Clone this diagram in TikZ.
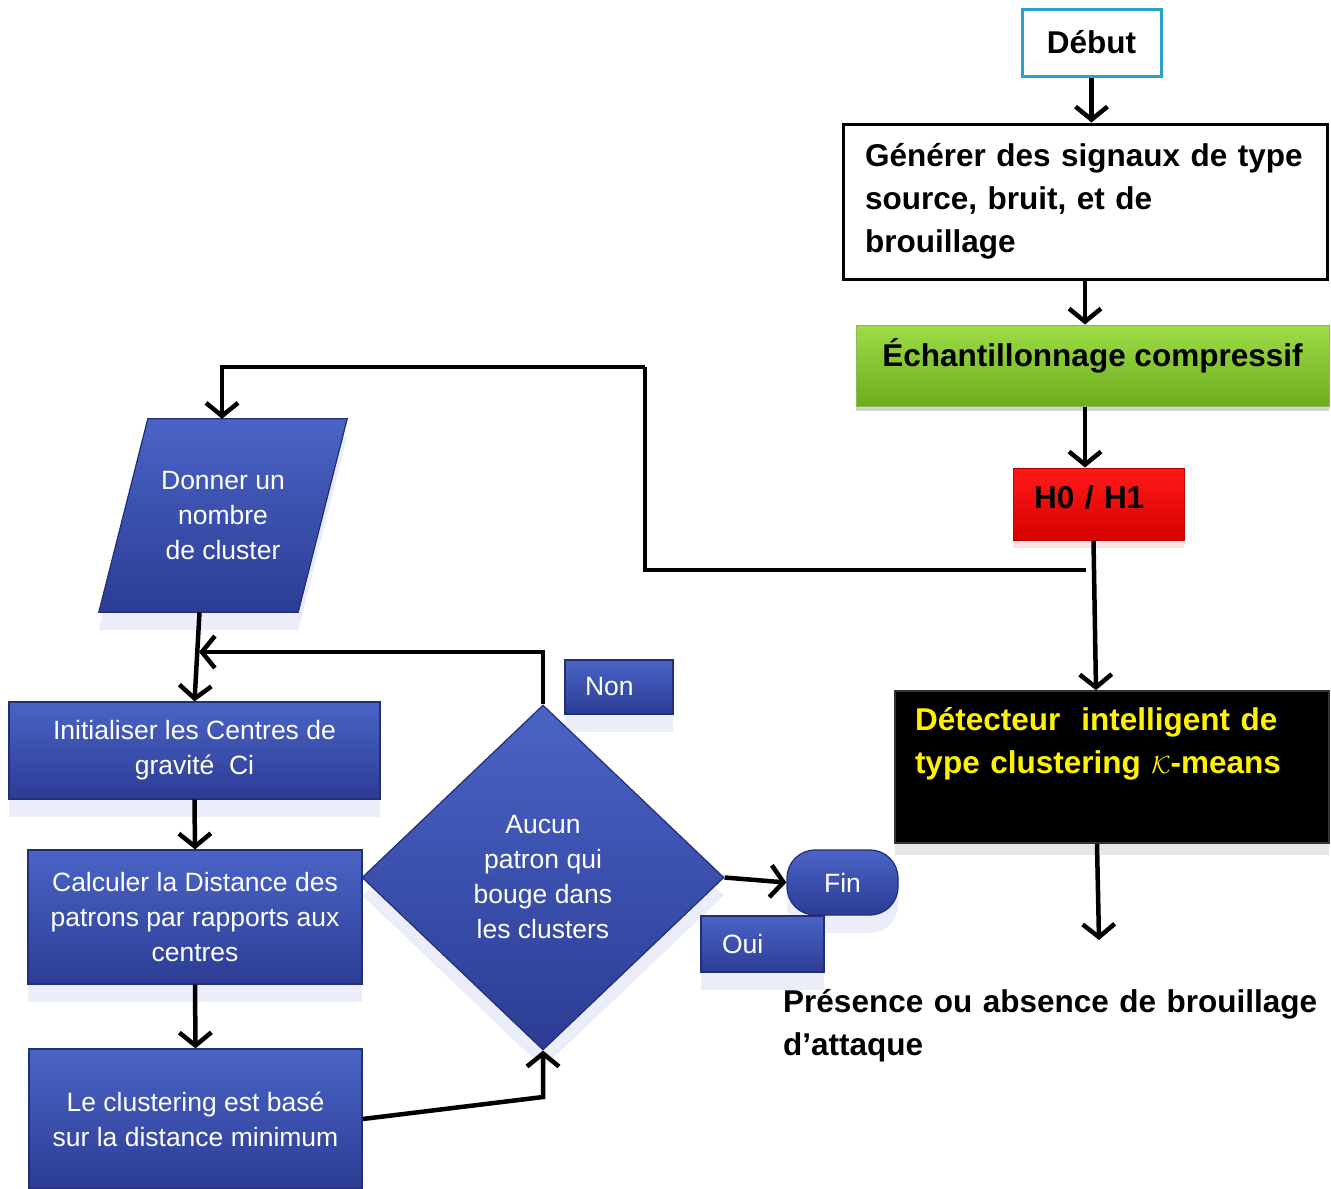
\documentclass[tikz,border=0pt]{standalone}
\usepackage{fontspec}
\setmainfont{Liberation Sans}
\usetikzlibrary{arrows.meta,shapes.geometric,shadows,backgrounds}
\definecolor{bleuhaut}{RGB}{74,100,198}
\definecolor{bleubas}{RGB}{44,60,148}
\definecolor{bleufonce}{RGB}{34,46,118}
\definecolor{vertclair}{RGB}{158,220,72}
\definecolor{vertfonce}{RGB}{108,172,30}
\definecolor{cyanbord}{RGB}{42,160,204}

\begin{document}
\begin{tikzpicture}[x=1pt,y=-1pt,
	fl/.style={line width=4.5pt,-{Straight Barb[length=13pt,width=32pt]}},
	trait/.style={line width=4.5pt},
	gras/.style={font=\fontsize{31.5}{43}\selectfont\bfseries},
	fond/.style={draw=bleufonce,line width=1.2pt,top color=bleuhaut,bottom color=bleubas,
		drop shadow={shadow xshift=0pt,shadow yshift=-18pt,fill=bleuhaut,opacity=.11}},
	blanc/.style={text=white,font=\fontsize{26.5}{35}\selectfont,align=center,inner sep=0pt},
	bleu/.style={fond,blanc},
	boite/.style={bleu,rectangle,minimum width=#1},
	etiq/.style={bleu,rectangle,text width=#1,align=left}]
	\useasboundingbox (0,0) rectangle (1331,1189);

	\node[gras,draw=cyanbord,line width=3pt,fill=white,minimum width=139pt,minimum height=67pt] (debut) at (1091.5,42.5) {Début};
	\node[gras,draw=black,line width=3pt,fill=white,minimum width=484pt,minimum height=155pt,text width=440pt,inner sep=0pt,align=left] (gen) at (1085,201.5) {Générer des signaux de type\\source, bruit, et de\\brouillage};
	\node[gras,draw=vertfonce!80,line width=1pt,top color=vertclair,bottom color=vertfonce,minimum width=473pt,minimum height=81pt,text depth=26pt,inner sep=0pt,
		drop shadow={shadow xshift=0pt,shadow yshift=-5pt,opacity=.35}] (echant) at (1092.5,365.5) {Échantillonnage compressif};
	\node[gras,draw=red!75!black,line width=1pt,top color=red!90!white,bottom color=red!85!black,minimum width=171pt,minimum height=72pt,text depth=14pt,inner sep=0pt,text width=129pt,align=left,
		drop shadow={shadow xshift=0pt,shadow yshift=-8pt,fill=red!60,opacity=.18}] (hyp) at (1098.5,504) {H0 / H1};
	\node[gras,draw=black!80,line width=1.5pt,fill=black,text=yellow,minimum width=434pt,minimum height=152pt,text width=394pt,inner sep=0pt,align=left,text depth=96pt,
		drop shadow={shadow xshift=0pt,shadow yshift=-12pt,opacity=.2}] (detect) at (1112,767) {Détecteur~ intelligent de\\type clustering $\mathcal{K}$-means};
	\node[gras,anchor=north west,text width=560pt,inner sep=0pt,align=left] (presence) at (783,989) {Présence ou absence de brouillage\\d’attaque};
	\coordinate (sortie) at (1099,940);
	\coordinate (retour) at (1086,570);
	\coordinate (coin) at (645,367);

	\node[blanc,minimum width=199pt,minimum height=193pt] (nombre) at (223,515.5) {Donner un\\nombre\\de cluster};
	\begin{pgfonlayer}{background}
		\path[fond] ([xshift=24.5pt]nombre.north west) -- ([xshift=24.5pt]nombre.north east)
			-- ([xshift=-24.5pt]nombre.south east) -- ([xshift=-24.5pt]nombre.south west) -- cycle;
	\end{pgfonlayer}
	\node[boite=371pt,minimum height=97pt] (init) at (194.5,750.5) {Initialiser les Centres de\\gravité~ Ci};
	\node[boite=334pt,minimum height=134pt] (calc) at (195,917) {Calculer la Distance des\\patrons par rapports aux\\centres};
	\node[boite=333pt,minimum height=140pt] (clust) at (195.5,1119) {Le clustering est basé\\sur la distance minimum};
	\node[bleu,diamond,aspect=1.05,minimum width=362pt,minimum height=345pt] (aucun) at (543,877.5) {Aucun\\patron qui\\bouge dans\\les clusters};
	\node[boite=111pt,minimum height=65pt,rounded corners=28pt] (fin) at (842.5,882.5) {Fin};
	\node[etiq=81pt,minimum width=123pt,minimum height=56pt] (oui) at (762.5,944) {Oui};
	\node[etiq=68pt,minimum width=108pt,minimum height=54pt] (non) at (619,687) {Non};
	\coordinate (boucle) at (199,652);
	\coordinate (coude) at (543,1097);

	\path (debut) edge[fl] (debut.south |- gen.north)
		(gen.south) edge[fl] (gen.south |- echant.north)
		(echant.south -| gen.south) edge[fl] (gen.south |- hyp.north)
		([xshift=-5pt]hyp.south) edge[fl] ([xshift=-16pt]detect.north)
		([xshift=-15pt]detect.south) edge[fl] (sortie)
		([xshift=-23.5pt]nombre.south) edge[fl] (init.north)
		(init.south) edge[fl] (calc.north)
		(calc.south) edge[fl] (clust.north)
		(aucun.east) edge[fl] (fin.west);
	\draw[trait] (retour) -| (coin);
	\draw[fl] (coin) -| ([xshift=-1pt]nombre.north);
	\draw[fl] (aucun.north) |- (boucle);
	\draw[fl] (clust.east) -- (coude) -- (aucun.south);
\end{tikzpicture}
\end{document}
